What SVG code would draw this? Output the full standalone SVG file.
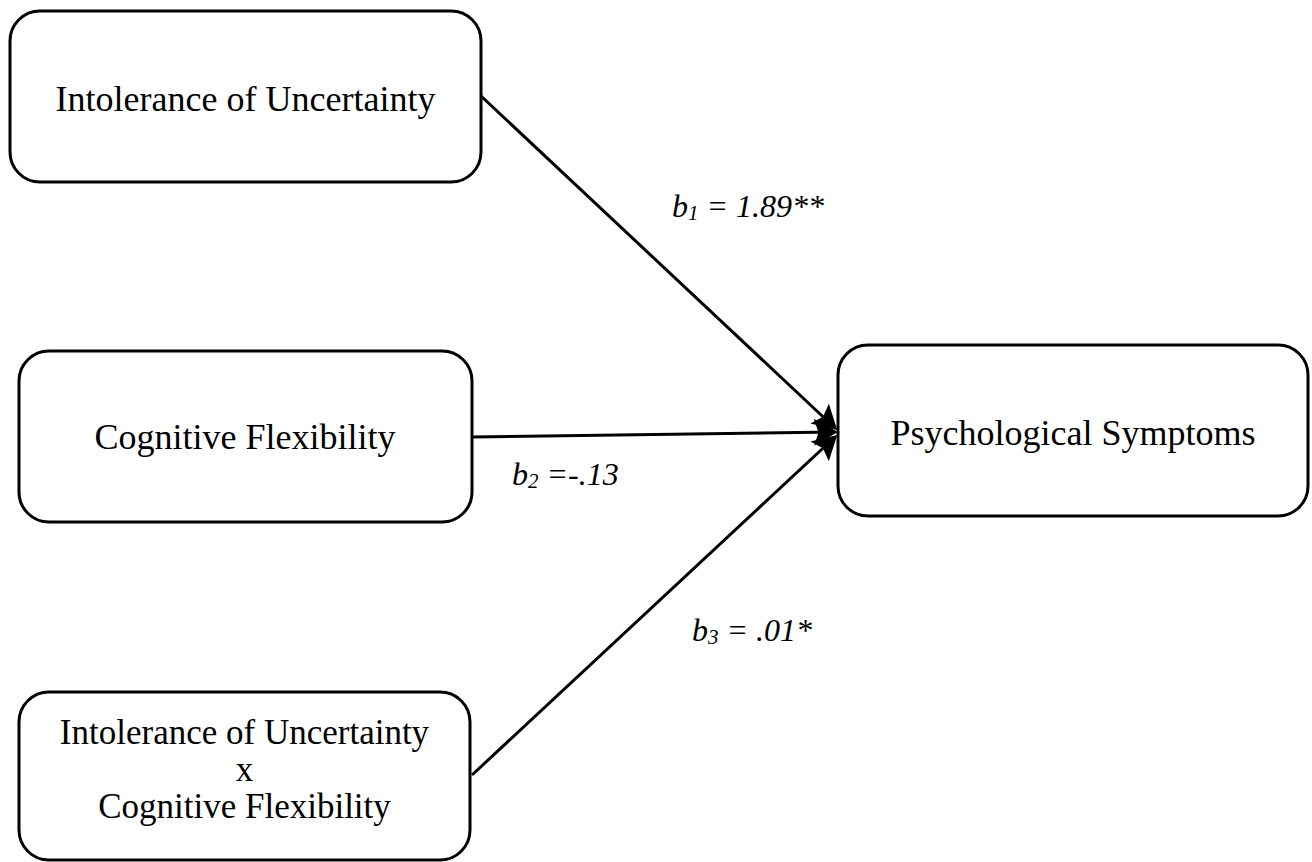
<svg xmlns="http://www.w3.org/2000/svg" width="1312" height="862" viewBox="0 0 1312 862">
<style>
.box{fill:#fff;stroke:#000;stroke-width:3}
.t{font-family:"Liberation Serif","Times New Roman",serif;font-size:36px;fill:#000;text-anchor:middle}
.t3{font-size:35px}
.lbl{font-family:"Liberation Serif","Times New Roman",serif;font-size:32px;font-style:italic;fill:#000}
.sub{font-size:21px}
.c{stroke:#000;stroke-width:3;fill:none;marker-end:url(#ah)}
</style>
<defs>
<marker id="ah" markerWidth="9" markerHeight="9" refX="7" refY="4.5" orient="auto" markerUnits="strokeWidth">
<path d="M0,0 L8,4.5 L0,9 L1.5,4.5 Z" fill="#000"/>
</marker>
</defs>
<rect width="1312" height="862" fill="#fff"/>
<g id="connectors">
<line class="c" x1="481" y1="96" x2="835" y2="428"/>
<line class="c" x1="472" y1="437" x2="835" y2="432"/>
<line class="c" x1="472" y1="775" x2="835" y2="437"/>
</g>
<g id="n1">
<rect class="box" x="10" y="11" width="471" height="171" rx="30"/>
<text class="t" x="245.5" y="111">Intolerance of Uncertainty</text>
</g>
<g id="n2">
<rect class="box" x="19" y="351" width="453" height="171" rx="30"/>
<text class="t" x="245" y="449">Cognitive Flexibility</text>
</g>
<g id="n3">
<rect class="box" x="19" y="692" width="451" height="168" rx="30"/>
<text class="t t3" x="244.5" y="744">Intolerance of Uncertainty</text>
<text class="t t3" x="244.5" y="781">x</text>
<text class="t t3" x="244.5" y="818">Cognitive Flexibility</text>
</g>
<g id="n4">
<rect class="box" x="838" y="345" width="470" height="171" rx="30"/>
<text class="t" x="1073" y="445">Psychological Symptoms</text>
</g>
<g id="labels">
<text class="lbl" x="672" y="217">b<tspan class="sub" dy="3">1</tspan><tspan dy="-3"> = 1.89**</tspan></text>
<text class="lbl" x="512" y="485">b<tspan class="sub" dy="3">2</tspan><tspan dy="-3"> =-.13</tspan></text>
<text class="lbl" x="692" y="641">b<tspan class="sub" dy="3">3</tspan><tspan dy="-3"> = .01*</tspan></text>
</g>
</svg>
